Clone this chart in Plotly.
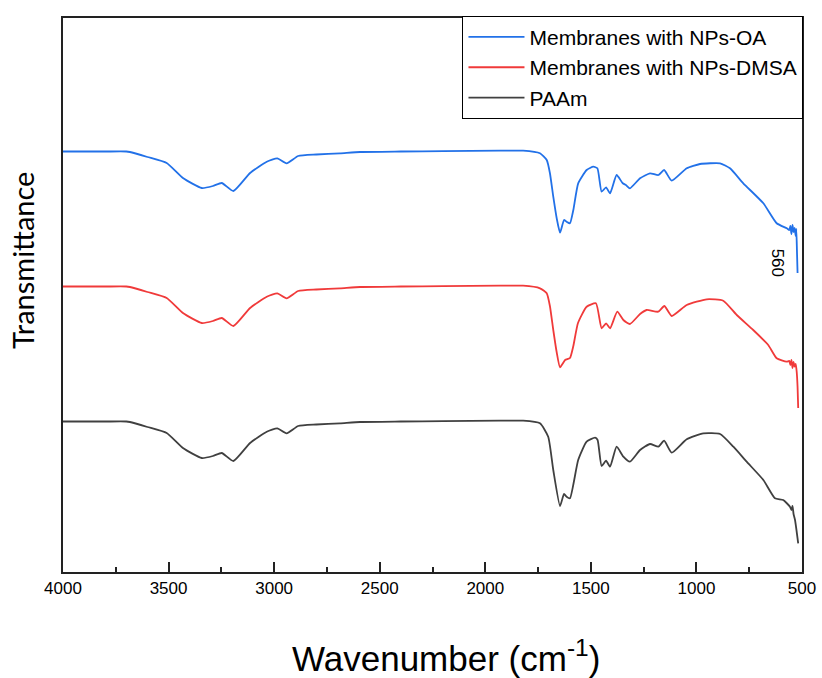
import plotly.graph_objects as go

# ---- data (arbitrary transmittance units) ----
wn_oa = [4000, 3800, 3700, 3683, 3600, 3509, 3432, 3343, 3290, 3248, 3193, 3114, 3035, 2985, 2941, 2886,
         2800, 2688, 2593, 2400, 2200, 1930, 1821, 1741, 1709, 1694, 1678, 1662, 1646, 1627, 1615, 1599,
         1583, 1560, 1520, 1488, 1469, 1449, 1428, 1409, 1378, 1349, 1334, 1315, 1267, 1220, 1180, 1153,
         1117, 1046, 983, 888, 841, 778, 683, 620, 572, 560, 555, 550, 545, 540, 535, 530, 527, 524, 521]
t_oa = [420.5, 420.5, 420.5, 420, 415, 409, 394, 384, 386, 389, 381, 399, 410.3, 413.7, 408.7, 416,
        417.5, 418.7, 420, 420.5, 420.8, 421.3, 421.3, 418.7, 412, 399, 375.3, 354, 339.3, 352, 350.3, 348.7,
        362, 388.7, 402, 405.3, 403.7, 380.3, 384.7, 378.7, 397, 388.7, 387, 383.7, 393.7, 398.7, 397, 402,
        391.3, 403.7, 408, 408.7, 403.7, 388.7, 368.7, 348.7, 343.7, 342, 346, 338, 347, 340, 344, 336, 343, 322, 299]

wn_dmsa = [4000, 3800, 3700, 3683, 3600, 3509, 3432, 3343, 3290, 3248, 3193, 3114, 3035, 2985, 2941, 2886,
           2800, 2688, 2593, 2400, 2200, 1930, 1821, 1741, 1709, 1694, 1678, 1662, 1646, 1622, 1599, 1583,
           1561, 1520, 1476, 1449, 1428, 1409, 1375, 1346, 1315, 1267, 1236, 1181, 1152, 1117, 1046, 951,
           873, 809, 731, 660, 620, 573, 560, 555, 550, 545, 540, 535, 530, 525, 521, 518]
t_dmsa = [285.5, 285.5, 285.5, 285, 280, 274, 259, 249, 251, 254, 246, 264, 275.3, 278.7, 273.7, 281,
          282.5, 283.7, 285, 285.5, 285.8, 286.3, 286.3, 283.7, 278.7, 266, 242, 220, 204.7, 212, 214, 226,
          249, 265.3, 268.7, 243.7, 248.7, 243.7, 260.3, 252, 248, 258, 262, 260.3, 266, 256, 267, 272.7,
          271.3, 257, 242, 227, 213.7, 210.3, 211, 207, 212, 204, 210, 205.3, 208, 200, 185, 164]

wn_paam = [4000, 3800, 3700, 3683, 3600, 3509, 3432, 3343, 3290, 3248, 3193, 3114, 3035, 2985, 2941, 2886,
           2800, 2688, 2593, 2400, 2200, 1930, 1821, 1741, 1702, 1678, 1646, 1627, 1615, 1599, 1560, 1520,
           1480, 1468, 1449, 1428, 1409, 1378, 1346, 1315, 1267, 1220, 1180, 1153, 1117, 1046, 967, 888,
           825, 762, 683, 628, 589, 557, 550, 545, 540, 533, 518]
t_paam = [150.5, 150.5, 150.5, 150, 145, 139, 124, 114, 116, 119, 111, 129, 140.3, 143.7, 138.7, 146,
          147.5, 148.7, 150, 150.5, 150.8, 151.3, 151.3, 148.7, 135.3, 102, 66, 78, 75.3, 73.7, 112, 130.3,
          134.3, 132, 106, 111.3, 105.3, 125.3, 115.3, 110.3, 122, 128, 125.3, 131.3, 119.3, 132.7, 138.7, 138,
          125.3, 110.3, 92, 73.7, 72, 65.3, 62, 66, 58, 52, 28.7]

series_names = ["Membranes with NPs-OA", "Membranes with NPs-DMSA", "PAAm"]
x_ticks = [4000, 3500, 3000, 2500, 2000, 1500, 1000, 500]
peak_label = "560"

colors = ["#2271e8", "#f03a3a", "#404040"]

fig = go.Figure()
for name, xs, ys, c in zip(series_names, [wn_oa, wn_dmsa, wn_paam], [t_oa, t_dmsa, t_paam], colors):
    fig.add_trace(go.Scatter(x=xs, y=ys, mode="lines", name=name, legendgroup=name,
                             line=dict(color=c, width=1.8, shape="spline", smoothing=0.5)))

fig.update_layout(
    width=822, height=678,
    margin=dict(l=63, r=20, t=18, b=106),
    paper_bgcolor="white", plot_bgcolor="white",
    font=dict(family="Liberation Sans, Arial", color="black"),
    showlegend=True,
    legend=dict(x=1.002, xanchor="right", y=1.004, yanchor="top",
                bordercolor="black", borderwidth=1, bgcolor="white",
                font=dict(size=21, family="Liberation Sans, Arial"),
                tracegroupgap=0, itemwidth=56),
)
fig.update_xaxes(range=[4000, 500], tickvals=x_ticks, ticktext=[str(v) for v in x_ticks],
                 showline=True, mirror=True, linecolor="#222", linewidth=2,
                 ticks="inside", ticklen=10, tickwidth=1.5, tickcolor="#222",
                 minor=dict(ticks="inside", ticklen=5, dtick=250, tickcolor="#222", tickwidth=1.5),
                 tickfont=dict(size=17), showgrid=False, zeroline=False, automargin=False)
fig.update_yaxes(range=[0, 554], showline=True, mirror=True, linecolor="#222", linewidth=2,
                 showticklabels=False, ticks="", showgrid=False, zeroline=False, automargin=False)

fig.add_annotation(text="Wavenumber (cm<sup>-1</sup>)", xref="paper", yref="paper",
                   x=0.518, y=0, yshift=-84, xanchor="center", yanchor="middle",
                   showarrow=False, font=dict(size=35, family="Liberation Sans, Arial"))
fig.add_annotation(text="Transmittance", xref="paper", yref="paper",
                   x=0, y=0.563, xshift=-41, xanchor="center", yanchor="middle", textangle=-90,
                   showarrow=False, font=dict(size=29, family="Lato"))
fig.add_annotation(text=peak_label, x=560, y=309, xref="x", yref="y", textangle=90,
                   showarrow=False, font=dict(size=17, family="Liberation Sans, Arial"),
                   xshift=-11)

fig.write_html("out.html")
